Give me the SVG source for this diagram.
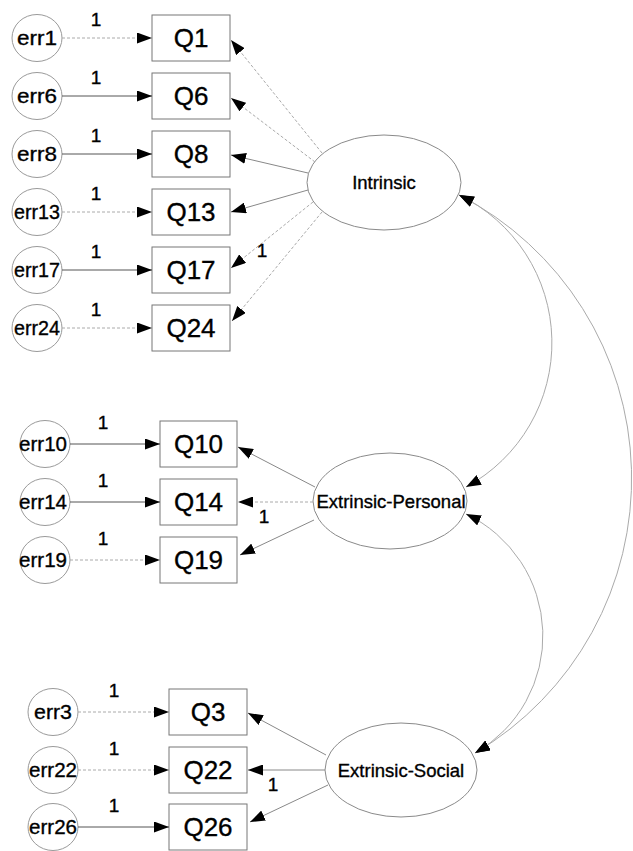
<svg xmlns="http://www.w3.org/2000/svg" width="633" height="851" viewBox="0 0 633 851">
  <style>
    text { font-family: "Liberation Sans", Arial, sans-serif; fill: #000; stroke: #000; stroke-width: 0.35; }
    .err ellipse { fill: none; stroke: #9a9a9a; stroke-width: 1; }
    .err text { font-size: 21px; text-anchor: middle; }
    .obs rect { fill: none; stroke: #777; stroke-width: 1; }
    .obs text { font-size: 26px; text-anchor: middle; }
    .lat ellipse { fill: none; stroke: #8a8a8a; stroke-width: 1; }
    .lat text { font-size: 18.5px; text-anchor: middle; }
    .one { font-size: 19px; text-anchor: middle; }
    .p { fill: none; stroke: #555; stroke-width: 1; marker-end: url(#ah); }
    .p.lt { stroke: #aaa; stroke-dasharray: 3 2; }
    .p.ld { stroke: #888; }
    .cov { fill: none; stroke: #aaa; stroke-width: 1; marker-start: url(#ah); marker-end: url(#ah); }
  </style>
  <defs>
    <marker id="ah" viewBox="0 0 15 11" refX="15" refY="5.5" markerWidth="15" markerHeight="11" markerUnits="userSpaceOnUse" orient="auto-start-reverse">
      <path d="M0,0 L15,5.5 L0,11 z" fill="#000"/>
    </marker>
  </defs>

  <!-- latent factors -->
  <g id="Intrinsic" class="lat">
    <ellipse cx="384" cy="182.5" rx="77" ry="47.5"/>
    <text x="384" y="189">Intrinsic</text>
  </g>
  <g id="ExtrinsicPersonal" class="lat">
    <ellipse cx="390" cy="501" rx="77" ry="48"/>
    <text x="391" y="507.5">Extrinsic-Personal</text>
  </g>
  <g id="ExtrinsicSocial" class="lat">
    <ellipse cx="401" cy="770" rx="76" ry="47"/>
    <text x="401" y="776.5">Extrinsic-Social</text>
  </g>

  <!-- observed items -->
  <g id="Q1" class="obs"><rect x="152" y="15" width="78" height="46"/><text x="191" y="47">Q1</text></g>
  <g id="Q6" class="obs"><rect x="152" y="73" width="78" height="46"/><text x="191" y="105">Q6</text></g>
  <g id="Q8" class="obs"><rect x="152" y="131" width="78" height="46"/><text x="191" y="163">Q8</text></g>
  <g id="Q13" class="obs"><rect x="152" y="189" width="78" height="46"/><text x="191" y="221">Q13</text></g>
  <g id="Q17" class="obs"><rect x="152" y="247" width="78" height="46"/><text x="191" y="279">Q17</text></g>
  <g id="Q24" class="obs"><rect x="152" y="305" width="78" height="46"/><text x="191" y="337">Q24</text></g>
  <g id="Q10" class="obs"><rect x="160" y="421" width="77" height="46"/><text x="198.5" y="453">Q10</text></g>
  <g id="Q14" class="obs"><rect x="160" y="479" width="77" height="46"/><text x="198.5" y="511">Q14</text></g>
  <g id="Q19" class="obs"><rect x="160" y="537" width="77" height="46"/><text x="198.5" y="569">Q19</text></g>
  <g id="Q3" class="obs"><rect x="169" y="689" width="78" height="46"/><text x="208" y="721">Q3</text></g>
  <g id="Q22" class="obs"><rect x="169" y="747" width="78" height="46"/><text x="208" y="779">Q22</text></g>
  <g id="Q26" class="obs"><rect x="169" y="804" width="78" height="46"/><text x="208" y="836">Q26</text></g>

  <!-- error terms -->
  <g id="err1" class="err"><ellipse cx="37" cy="38" rx="25" ry="23.5"/><text x="37" y="45" textLength="40" lengthAdjust="spacingAndGlyphs">err1</text></g>
  <g id="err6" class="err"><ellipse cx="37" cy="96" rx="25" ry="23.5"/><text x="37" y="103" textLength="40" lengthAdjust="spacingAndGlyphs">err6</text></g>
  <g id="err8" class="err"><ellipse cx="37" cy="154" rx="25" ry="23.5"/><text x="37" y="161" textLength="40" lengthAdjust="spacingAndGlyphs">err8</text></g>
  <g id="err13" class="err"><ellipse cx="37" cy="212" rx="25" ry="23.5"/><text x="37" y="219" textLength="46" lengthAdjust="spacingAndGlyphs">err13</text></g>
  <g id="err17" class="err"><ellipse cx="37" cy="270" rx="25" ry="23.5"/><text x="37" y="277" textLength="46" lengthAdjust="spacingAndGlyphs">err17</text></g>
  <g id="err24" class="err"><ellipse cx="37" cy="328" rx="25" ry="23.5"/><text x="37" y="335" textLength="46" lengthAdjust="spacingAndGlyphs">err24</text></g>
  <g id="err10" class="err"><ellipse cx="45" cy="444" rx="25" ry="23.5"/><text x="43" y="451" textLength="48" lengthAdjust="spacingAndGlyphs">err10</text></g>
  <g id="err14" class="err"><ellipse cx="45" cy="502" rx="25" ry="23.5"/><text x="43" y="509" textLength="48" lengthAdjust="spacingAndGlyphs">err14</text></g>
  <g id="err19" class="err"><ellipse cx="45" cy="560" rx="25" ry="23.5"/><text x="43" y="567" textLength="48" lengthAdjust="spacingAndGlyphs">err19</text></g>
  <g id="err3" class="err"><ellipse cx="53" cy="712" rx="25" ry="23.5"/><text x="53" y="719" textLength="38" lengthAdjust="spacingAndGlyphs">err3</text></g>
  <g id="err22" class="err"><ellipse cx="53" cy="770" rx="25" ry="23.5"/><text x="53" y="777" textLength="48" lengthAdjust="spacingAndGlyphs">err22</text></g>
  <g id="err26" class="err"><ellipse cx="53" cy="827" rx="25" ry="23.5"/><text x="53" y="834" textLength="48" lengthAdjust="spacingAndGlyphs">err26</text></g>

  <!-- paths and covariances -->
  <g id="connectors">
    <!-- error -> item -->
    <line class="p lt" x1="62" y1="38" x2="152" y2="38"/>
    <line class="p" x1="62" y1="96" x2="152" y2="96"/>
    <line class="p" x1="62" y1="154" x2="152" y2="154"/>
    <line class="p lt" x1="62" y1="212" x2="152" y2="212"/>
    <line class="p" x1="62" y1="270" x2="152" y2="270"/>
    <line class="p lt" x1="62" y1="328" x2="152" y2="328"/>
    <line class="p" x1="70" y1="444" x2="160" y2="444"/>
    <line class="p" x1="70" y1="502" x2="160" y2="502"/>
    <line class="p lt" x1="70" y1="560" x2="160" y2="560"/>
    <line class="p lt" x1="78" y1="712" x2="169" y2="712"/>
    <line class="p lt" x1="78" y1="770" x2="169" y2="770"/>
    <line class="p" x1="78" y1="827" x2="169" y2="827"/>

    <!-- factor -> item -->
    <line class="p lt" x1="322" y1="153" x2="231" y2="40"/>
    <line class="p lt" x1="315" y1="162" x2="231" y2="98"/>
    <line class="p ld" x1="308" y1="173" x2="231" y2="155"/>
    <line class="p ld" x1="308" y1="190" x2="231" y2="212"/>
    <line class="p lt" x1="313" y1="202" x2="231" y2="268"/>
    <line class="p lt" x1="322" y1="212" x2="232" y2="321"/>
    <line class="p ld" x1="315" y1="487" x2="238" y2="447"/>
    <line class="p lt" x1="313" y1="502" x2="238" y2="502"/>
    <line class="p ld" x1="314" y1="520" x2="240" y2="555"/>
    <line class="p ld" x1="326" y1="755" x2="248" y2="713"/>
    <line class="p ld" x1="325" y1="770" x2="248" y2="770"/>
    <line class="p ld" x1="328" y1="785" x2="250" y2="822"/>

    <!-- factor covariances -->
    <path class="cov" d="M459,195 A164,164 0 0 1 466,487"/>
    <path class="cov" d="M466,514 A135,135 0 0 1 475,753"/>
    <path class="cov" d="M459,195 A319,319 0 0 1 475,753"/>
  </g>

  <!-- fixed loadings -->
  <g id="weights">
    <text class="one" x="96" y="26">1</text>
    <text class="one" x="96" y="84">1</text>
    <text class="one" x="96" y="142">1</text>
    <text class="one" x="96" y="200">1</text>
    <text class="one" x="96" y="258">1</text>
    <text class="one" x="96" y="316">1</text>
    <text class="one" x="262" y="257">1</text>
    <text class="one" x="103" y="429">1</text>
    <text class="one" x="103" y="487">1</text>
    <text class="one" x="103" y="545">1</text>
    <text class="one" x="264" y="523">1</text>
    <text class="one" x="114" y="697">1</text>
    <text class="one" x="114" y="755">1</text>
    <text class="one" x="114" y="812">1</text>
    <text class="one" x="273" y="791">1</text>
  </g>
</svg>
